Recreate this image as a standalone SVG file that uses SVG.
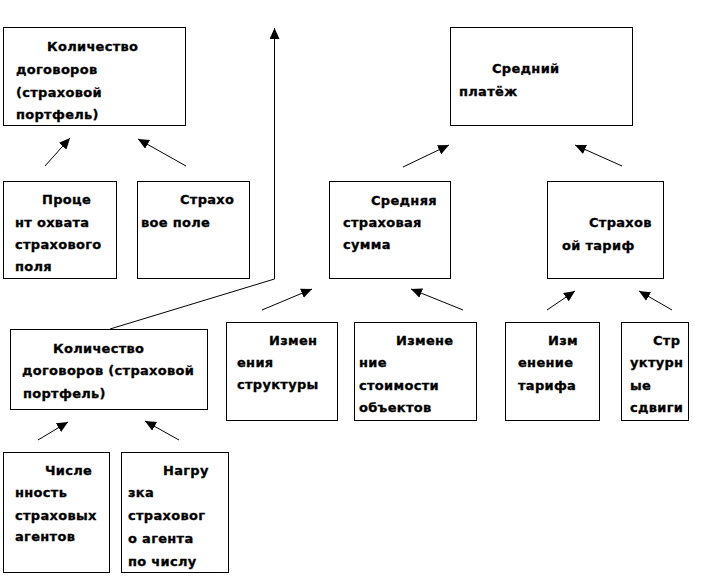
<svg xmlns="http://www.w3.org/2000/svg" width="704" height="576" viewBox="0 0 704 576">
<defs>
<marker id="ah" markerUnits="userSpaceOnUse" markerWidth="12" markerHeight="10" refX="11" refY="5" orient="auto">
<path d="M0,0 L11,5 L0,10 Z" fill="#000"/>
</marker>
<clipPath id="clipB"><rect x="121" y="452" width="108" height="122"/></clipPath>
</defs>
<style>
.box{fill:#fff;stroke:#000;stroke-width:1}
.t{font-family:"DejaVu Sans",Verdana,sans-serif;font-weight:bold;font-size:13px;letter-spacing:0.3px;fill:#000;stroke:#000;stroke-width:0.3}
.c{fill:none;stroke:#000;stroke-width:1}
</style>
<rect width="704" height="576" fill="#fff"/>
<g id="connectors">
<line class="c" x1="45" y1="166" x2="70" y2="138" marker-end="url(#ah)"/>
<line class="c" x1="186" y1="166" x2="138" y2="139" marker-end="url(#ah)"/>
<line class="c" x1="403" y1="167" x2="449" y2="145" marker-end="url(#ah)"/>
<line class="c" x1="622" y1="166" x2="575" y2="145" marker-end="url(#ah)"/>
<line class="c" x1="262" y1="310" x2="312" y2="289" marker-end="url(#ah)"/>
<line class="c" x1="463" y1="310" x2="411" y2="289" marker-end="url(#ah)"/>
<line class="c" x1="547" y1="310" x2="575" y2="291" marker-end="url(#ah)"/>
<line class="c" x1="672" y1="310" x2="639" y2="291" marker-end="url(#ah)"/>
<line class="c" x1="38" y1="440" x2="68" y2="422" marker-end="url(#ah)"/>
<line class="c" x1="179" y1="440" x2="145" y2="421" marker-end="url(#ah)"/>
<polyline class="c" points="110,329 274.5,279 274.5,28" marker-end="url(#ah)"/>
</g>
<g id="n1">
<rect class="box" x="3.5" y="27.5" width="182" height="98"/>
<text class="t"><tspan x="47" y="51">Количество</tspan><tspan x="16" y="74">договоров</tspan><tspan x="16" y="97">(страховой</tspan><tspan x="16" y="119">портфель)</tspan></text>
</g>
<g id="n2">
<rect class="box" x="450.5" y="27.5" width="182" height="98"/>
<text class="t"><tspan x="492" y="73">Средний</tspan><tspan x="459" y="96">платёж</tspan></text>
</g>
<g id="n3">
<rect class="box" x="3.5" y="181.5" width="113" height="97"/>
<text class="t"><tspan x="42" y="204">Проце</tspan><tspan x="15" y="227">нт охвата</tspan><tspan x="15" y="249">страхового</tspan><tspan x="15" y="271">поля</tspan></text>
</g>
<g id="n4">
<rect class="box" x="137.5" y="181.5" width="112" height="97"/>
<text class="t"><tspan x="180" y="204">Страхо</tspan><tspan x="141" y="227">вое поле</tspan></text>
</g>
<g id="n5">
<rect class="box" x="329.5" y="181.5" width="121" height="97"/>
<text class="t"><tspan x="371" y="205">Средняя</tspan><tspan x="343" y="227">страховая</tspan><tspan x="343" y="249">сумма</tspan></text>
</g>
<g id="n6">
<rect class="box" x="547.5" y="181.5" width="116" height="97"/>
<text class="t"><tspan x="589" y="227">Страхов</tspan><tspan x="562" y="250">ой тариф</tspan></text>
</g>
<g id="n7">
<rect class="box" x="10.5" y="329.5" width="197" height="80"/>
<text class="t"><tspan x="53" y="353">Количество</tspan><tspan x="22" y="375">договоров (страховой</tspan><tspan x="23" y="398">портфель)</tspan></text>
</g>
<g id="n8">
<rect class="box" x="226.5" y="322.5" width="111" height="98"/>
<text class="t"><tspan x="269" y="345">Измен</tspan><tspan x="237" y="367">ения</tspan><tspan x="237" y="389">структуры</tspan></text>
</g>
<g id="n9">
<rect class="box" x="354.5" y="322.5" width="122" height="98"/>
<text class="t"><tspan x="396" y="345">Измене</tspan><tspan x="359" y="367">ние</tspan><tspan x="359" y="390">стоимости</tspan><tspan x="359" y="412">объектов</tspan></text>
</g>
<g id="n10">
<rect class="box" x="505.5" y="322.5" width="94" height="98"/>
<text class="t"><tspan x="548" y="345">Изм</tspan><tspan x="518" y="367">енение</tspan><tspan x="518" y="390">тарифа</tspan></text>
</g>
<g id="n11">
<rect class="box" x="621.5" y="322.5" width="67" height="98"/>
<text class="t"><tspan x="653" y="345">Стр</tspan><tspan x="630" y="367">уктурн</tspan><tspan x="630" y="390">ые</tspan><tspan x="630" y="412">сдвиги</tspan></text>
</g>
<g id="n12">
<rect class="box" x="3.5" y="452.5" width="106" height="120"/>
<text class="t"><tspan x="45" y="475">Числе</tspan><tspan x="15" y="497">нность</tspan><tspan x="15" y="520">страховых</tspan><tspan x="15" y="541">агентов</tspan></text>
</g>
<g id="n13">
<rect class="box" x="121.5" y="452.5" width="107" height="120"/>
<text class="t" clip-path="url(#clipB)"><tspan x="163" y="475">Нагру</tspan><tspan x="128" y="497">зка</tspan><tspan x="128" y="520">страховог</tspan><tspan x="128" y="543">о агента</tspan><tspan x="128" y="566">по числу</tspan></text>
</g>
</svg>
